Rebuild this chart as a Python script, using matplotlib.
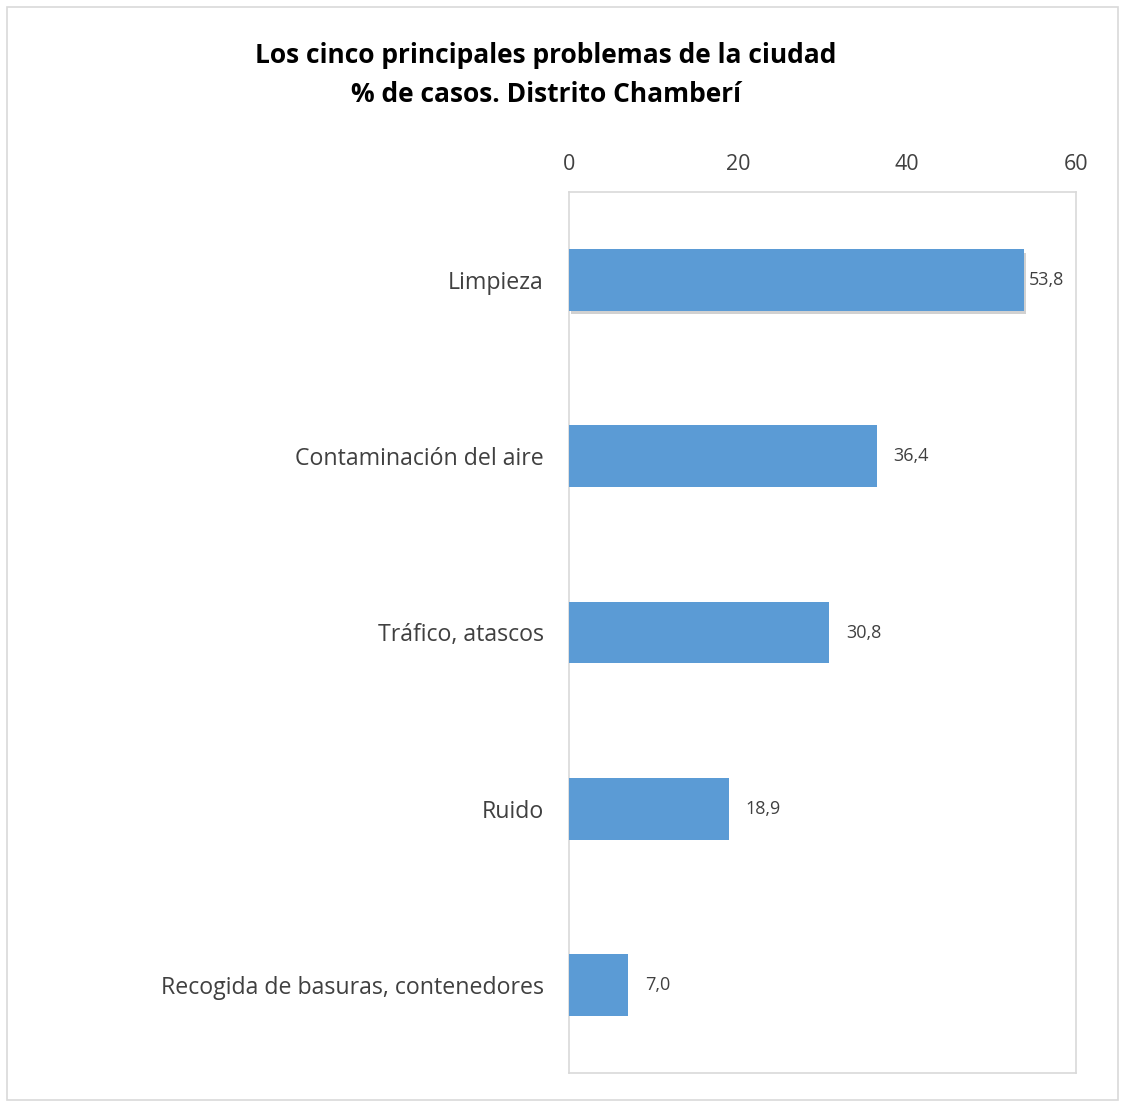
import matplotlib
matplotlib.use("Agg")
import matplotlib.pyplot as plt
import matplotlib.patches as mpatches
import matplotlib.patheffects as pe

categories = ["Limpieza", "Contaminación del aire", "Tráfico, atascos", "Ruido",
              "Recogida de basuras, contenedores"]
values = [53.8, 36.4, 30.8, 18.9, 7.0]
value_labels = ["53,8", "36,4", "30,8", "18,9", "7,0"]
xticks = [0, 20, 40, 60]
title = "Los cinco principales problemas de la ciudad\n% de casos. Distrito Chamberí"

plt.rcParams['font.family'] = ['Open Sans', 'DejaVu Sans']

W, H = 1127, 1102
fig = plt.figure(figsize=(W / 100, H / 100), dpi=100)
fig.patch.set_facecolor("white")

ax = fig.add_axes([569 / W, 1 - 1073 / H, (1076 - 569) / W, (1073 - 192) / H])

ypos = list(range(len(categories)))
bars = ax.barh(ypos, values, height=0.35, color="#5B9BD5", zorder=3)
bars[0].set_path_effects([pe.SimplePatchShadow(offset=(1.5, -2.5), shadow_rgbFace="#000000", alpha=0.18),
                          pe.Normal()])

ax.set_xlim(0, 60)
ax.set_ylim(len(categories) - 0.5, -0.5)
ax.set_xticks(xticks)
ax.set_xticklabels([str(t) for t in xticks])
ax.set_yticks(ypos)
ax.set_yticklabels(categories)
ax.xaxis.tick_top()
ax.tick_params(axis="x", length=0, pad=12, labelsize=15.5, labelcolor="#404040")
ax.tick_params(axis="y", length=0, pad=18, labelsize=16.7, labelcolor="#404040")
for s in ax.spines.values():
    s.set_color("#D9D9D9")
    s.set_linewidth(1.2)

label_offsets = [4, 12, 12, 12, 12]
for b, lab, off in zip(bars, value_labels, label_offsets):
    ax.annotate(lab, (b.get_width(), b.get_y() + b.get_height() / 2),
                xytext=(off, 0), textcoords="offset points", va="center", ha="left",
                fontsize=13, color="#404040")

fig.text(546 / W, 1 - 75 / H, title, ha="center", va="center", fontsize=19,
         fontweight="bold", color="#000000", linespacing=1.6)

fig.patches.append(mpatches.Rectangle((7 / W, 1 - 1100 / H), (1118 - 7) / W, (1100 - 7) / H,
                                      transform=fig.transFigure, fill=False,
                                      edgecolor="#D9D9D9", linewidth=1.2))

fig.savefig("out.png", dpi=100, facecolor="white")
